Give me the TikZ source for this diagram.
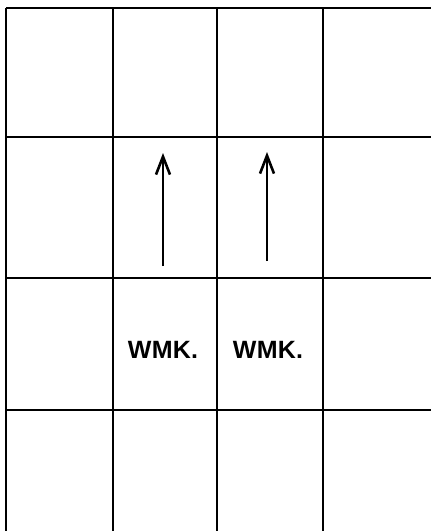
\documentclass[tikz,border=0pt]{standalone}
\usepackage{fontspec}
\setmainfont{Liberation Sans}
\usetikzlibrary{arrows.meta}
\begin{document}
\begin{tikzpicture}[x=1pt,y=-1pt,
  gridline/.style={line width=1.3pt,black},
  flowarrow/.style={line width=1.6pt,-{Straight Barb[length=18pt,width=14pt,line width=2.6pt]}},
  label/.style={font=\fontsize{25}{28}\selectfont\bfseries\addfontfeature{LetterSpace=1}, inner sep=0pt, anchor=center}]
\useasboundingbox (0,0) rectangle (431,531);
% horizontal lines
\foreach \y in {8,137,278,410} \draw[gridline] (6,\y) -- (431,\y);
% vertical lines
\foreach \x in {6,113,217,323} \draw[gridline] (\x,8) -- (\x,531);
% arrows
\coordinate (a1s) at (163,266);
\coordinate (a1e) at (163,153);
\coordinate (a2s) at (267,261);
\coordinate (a2e) at (267,152);
\draw[flowarrow] (a1s) -- (a1e);
\draw[flowarrow] (a2s) -- (a2e);
% labels
\node[label] (w1) at (163,350) {WMK.};
\node[label] (w2) at (268,350) {WMK.};
\end{tikzpicture}
\end{document}
